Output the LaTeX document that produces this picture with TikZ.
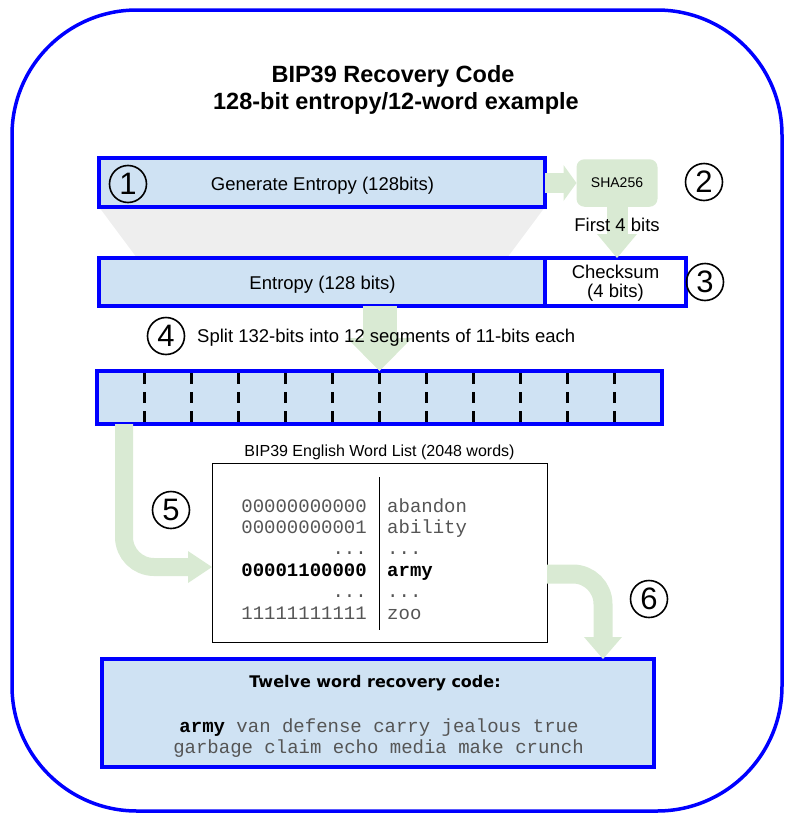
\documentclass[tikz,border=0pt]{standalone}
\usepackage{fontspec}
\setmainfont{Liberation Sans}
\newfontfamily\monofam{Liberation Mono}
\newfontfamily\djvfam{DejaVu Sans}
\usetikzlibrary{arrows.meta}
\definecolor{boxblue}{HTML}{CFE2F3}
\definecolor{ggreen}{HTML}{D9EAD3}
\definecolor{ggray}{HTML}{EEEEEE}
\definecolor{pureblue}{HTML}{0000FF}
\definecolor{monogray}{HTML}{555555}
\tikzset{
  bluebox/.style={draw=pureblue, line width=3.2pt, fill=boxblue, inner sep=0pt, outer sep=0pt},
  whitebox/.style={draw=pureblue, line width=3.2pt, fill=white, inner sep=0pt, outer sep=0pt},
  shabox/.style={fill=ggreen, rounded corners=8pt, inner sep=0pt, outer sep=0pt},
  listbox/.style={draw=black, line width=1pt, fill=white, inner sep=0pt, outer sep=0pt},
  garrow/.style n args={3}{draw=ggreen, line width=#1, -{Triangle[length=#2, width=#3, line width=0pt]}},
  lab/.style={inner sep=0pt, anchor=base, font=\fontsize{18.5}{22}\selectfont},
  smalllab/.style={inner sep=0pt, anchor=base, font=\fontsize{14}{17}\selectfont},
  caplab/.style={inner sep=0pt, anchor=base, font=\fontsize{16}{19}\selectfont},
  titlelab/.style={inner sep=0pt, anchor=base, font=\bfseries\fontsize{23.5}{28}\selectfont},
  monolab/.style={inner sep=0pt, text=monogray, font=\monofam\fontsize{19}{22}\selectfont},
  circnum/.style={circle, draw=black, line width=1.6pt, minimum size=37pt, inner sep=0pt, font=\fontsize{31}{31}\selectfont},
  divider/.style={draw=black, line width=3pt, dash pattern=on 11pt off 8pt}
}
\begin{document}
\begin{tikzpicture}[x=1pt,y=-1pt]
\useasboundingbox (0,0) rectangle (795,822);
% outer frame
\draw[pureblue, line width=3.5pt, rounded corners=125pt] (12,10) rectangle (782,811);

% title
\node[titlelab] (t1) at (393,82) {BIP39 Recovery Code};
\node[titlelab] (t2) at (396,109) {128-bit entropy/12-word example};

% gray funnel
\fill[ggray] (99,207) -- (545,207) -- (507,258) -- (137,258) -- cycle;

% boxes
\node[bluebox, minimum width=446pt, minimum height=49pt] (gen) at (322,182.5) {};
\node[shabox, minimum width=81pt, minimum height=47.5pt] (sha) at (617,183) {};
\node[bluebox, minimum width=446pt, minimum height=48pt] (ent) at (322,282) {};
\node[whitebox, minimum width=141pt, minimum height=48pt] (chk) at (615.5,282) {};
\node[bluebox, minimum width=565pt, minimum height=53pt] (bar) at (379.5,397.5) {};
\node[listbox, minimum width=335pt, minimum height=179pt] (wl) at (379.5,552.5) {};
\node[bluebox, minimum width=552pt, minimum height=108pt] (rc) at (378,713) {};

% dividers of the segment bar
\foreach \k in {1,...,11}
  \draw[divider] ({97+\k*47.083},373) -- ({97+\k*47.083},422);

% word list divider
\draw[black, line width=1pt] (379,477) -- (379,630);

% green arrows
\coordinate (a5s) at (124,424);
\coordinate (a5e) at (212,567);
\coordinate (a6s) at (547,574);
\coordinate (a6e) at (603,659);
\draw[garrow={20pt}{13pt}{36pt}] (gen.east |- sha.west) -- (sha.west);
\draw[garrow={21pt}{24pt}{40pt}] (sha.south) -- (sha.south |- chk.north);
\draw[garrow={34pt}{33pt}{65pt}] (bar.north |- ent.south) -- (bar.north);
\draw[garrow={18pt}{24pt}{32pt}, rounded corners=30pt] (a5s) |- (a5e);
\draw[garrow={19pt}{22pt}{38pt}, rounded corners=30pt] (a6s) -| (a6e);

% labels
\node[lab] (genl) at (322.5,190) {Generate Entropy (128bits)};
\node[smalllab] (shal) at (617,187.5) {SHA256};
\node[lab] (f4l) at (617,231.5) {First 4 bits};
\node[lab] (entl) at (322.5,289) {Entropy (128 bits)};
\node[lab] (chkl1) at (615.5,278) {Checksum};
\node[lab] (chkl2) at (615.5,297) {(4 bits)};
\node[lab, anchor=base west] (spl) at (197,342.5) {Split 132-bits into 12 segments of 11-bits each};
\node[caplab] (wlcap) at (379.5,456) {BIP39 English Word List (2048 words)};

% word list entries
\node[monolab, anchor=base east] (b1) at (367,512) {00000000000};
\node[monolab, anchor=base east] (b2) at (367,533) {00000000001};
\node[monolab, anchor=base east] (b3) at (367,554) {...};
\node[monolab, anchor=base east, text=black, font=\monofam\bfseries\fontsize{19}{22}\selectfont] (b4) at (367,576) {00001100000};
\node[monolab, anchor=base east] (b5) at (367,597) {...};
\node[monolab, anchor=base east] (b6) at (367,619) {11111111111};
\node[monolab, anchor=base west] (w1) at (387,512) {abandon};
\node[monolab, anchor=base west] (w2) at (387,533) {ability};
\node[monolab, anchor=base west] (w3) at (387,554) {...};
\node[monolab, anchor=base west, text=black, font=\monofam\bfseries\fontsize{19}{22}\selectfont] (w4) at (387,576) {army};
\node[monolab, anchor=base west] (w5) at (387,597) {...};
\node[monolab, anchor=base west] (w6) at (387,619) {zoo};

% recovery code
\node[inner sep=0pt, anchor=base, font=\djvfam\bfseries\fontsize{16}{19}\selectfont] (rct) at (375,687) {Twelve word recovery code:};
\node[monolab, anchor=base] (rc1) at (379,732) {{\color{black}\bfseries army} van defense carry jealous true};
\node[monolab, anchor=base] (rc2) at (378.5,753) {garbage claim echo media make crunch};

% circled numbers
\node[circnum] (n1) at (128,184) {1};
\node[circnum] (n2) at (704,182) {2};
\node[circnum] (n3) at (705,282) {3};
\node[circnum] (n4) at (166,336) {4};
\node[circnum] (n5) at (171,510) {5};
\node[circnum] (n6) at (649,599) {6};
\end{tikzpicture}
\end{document}
